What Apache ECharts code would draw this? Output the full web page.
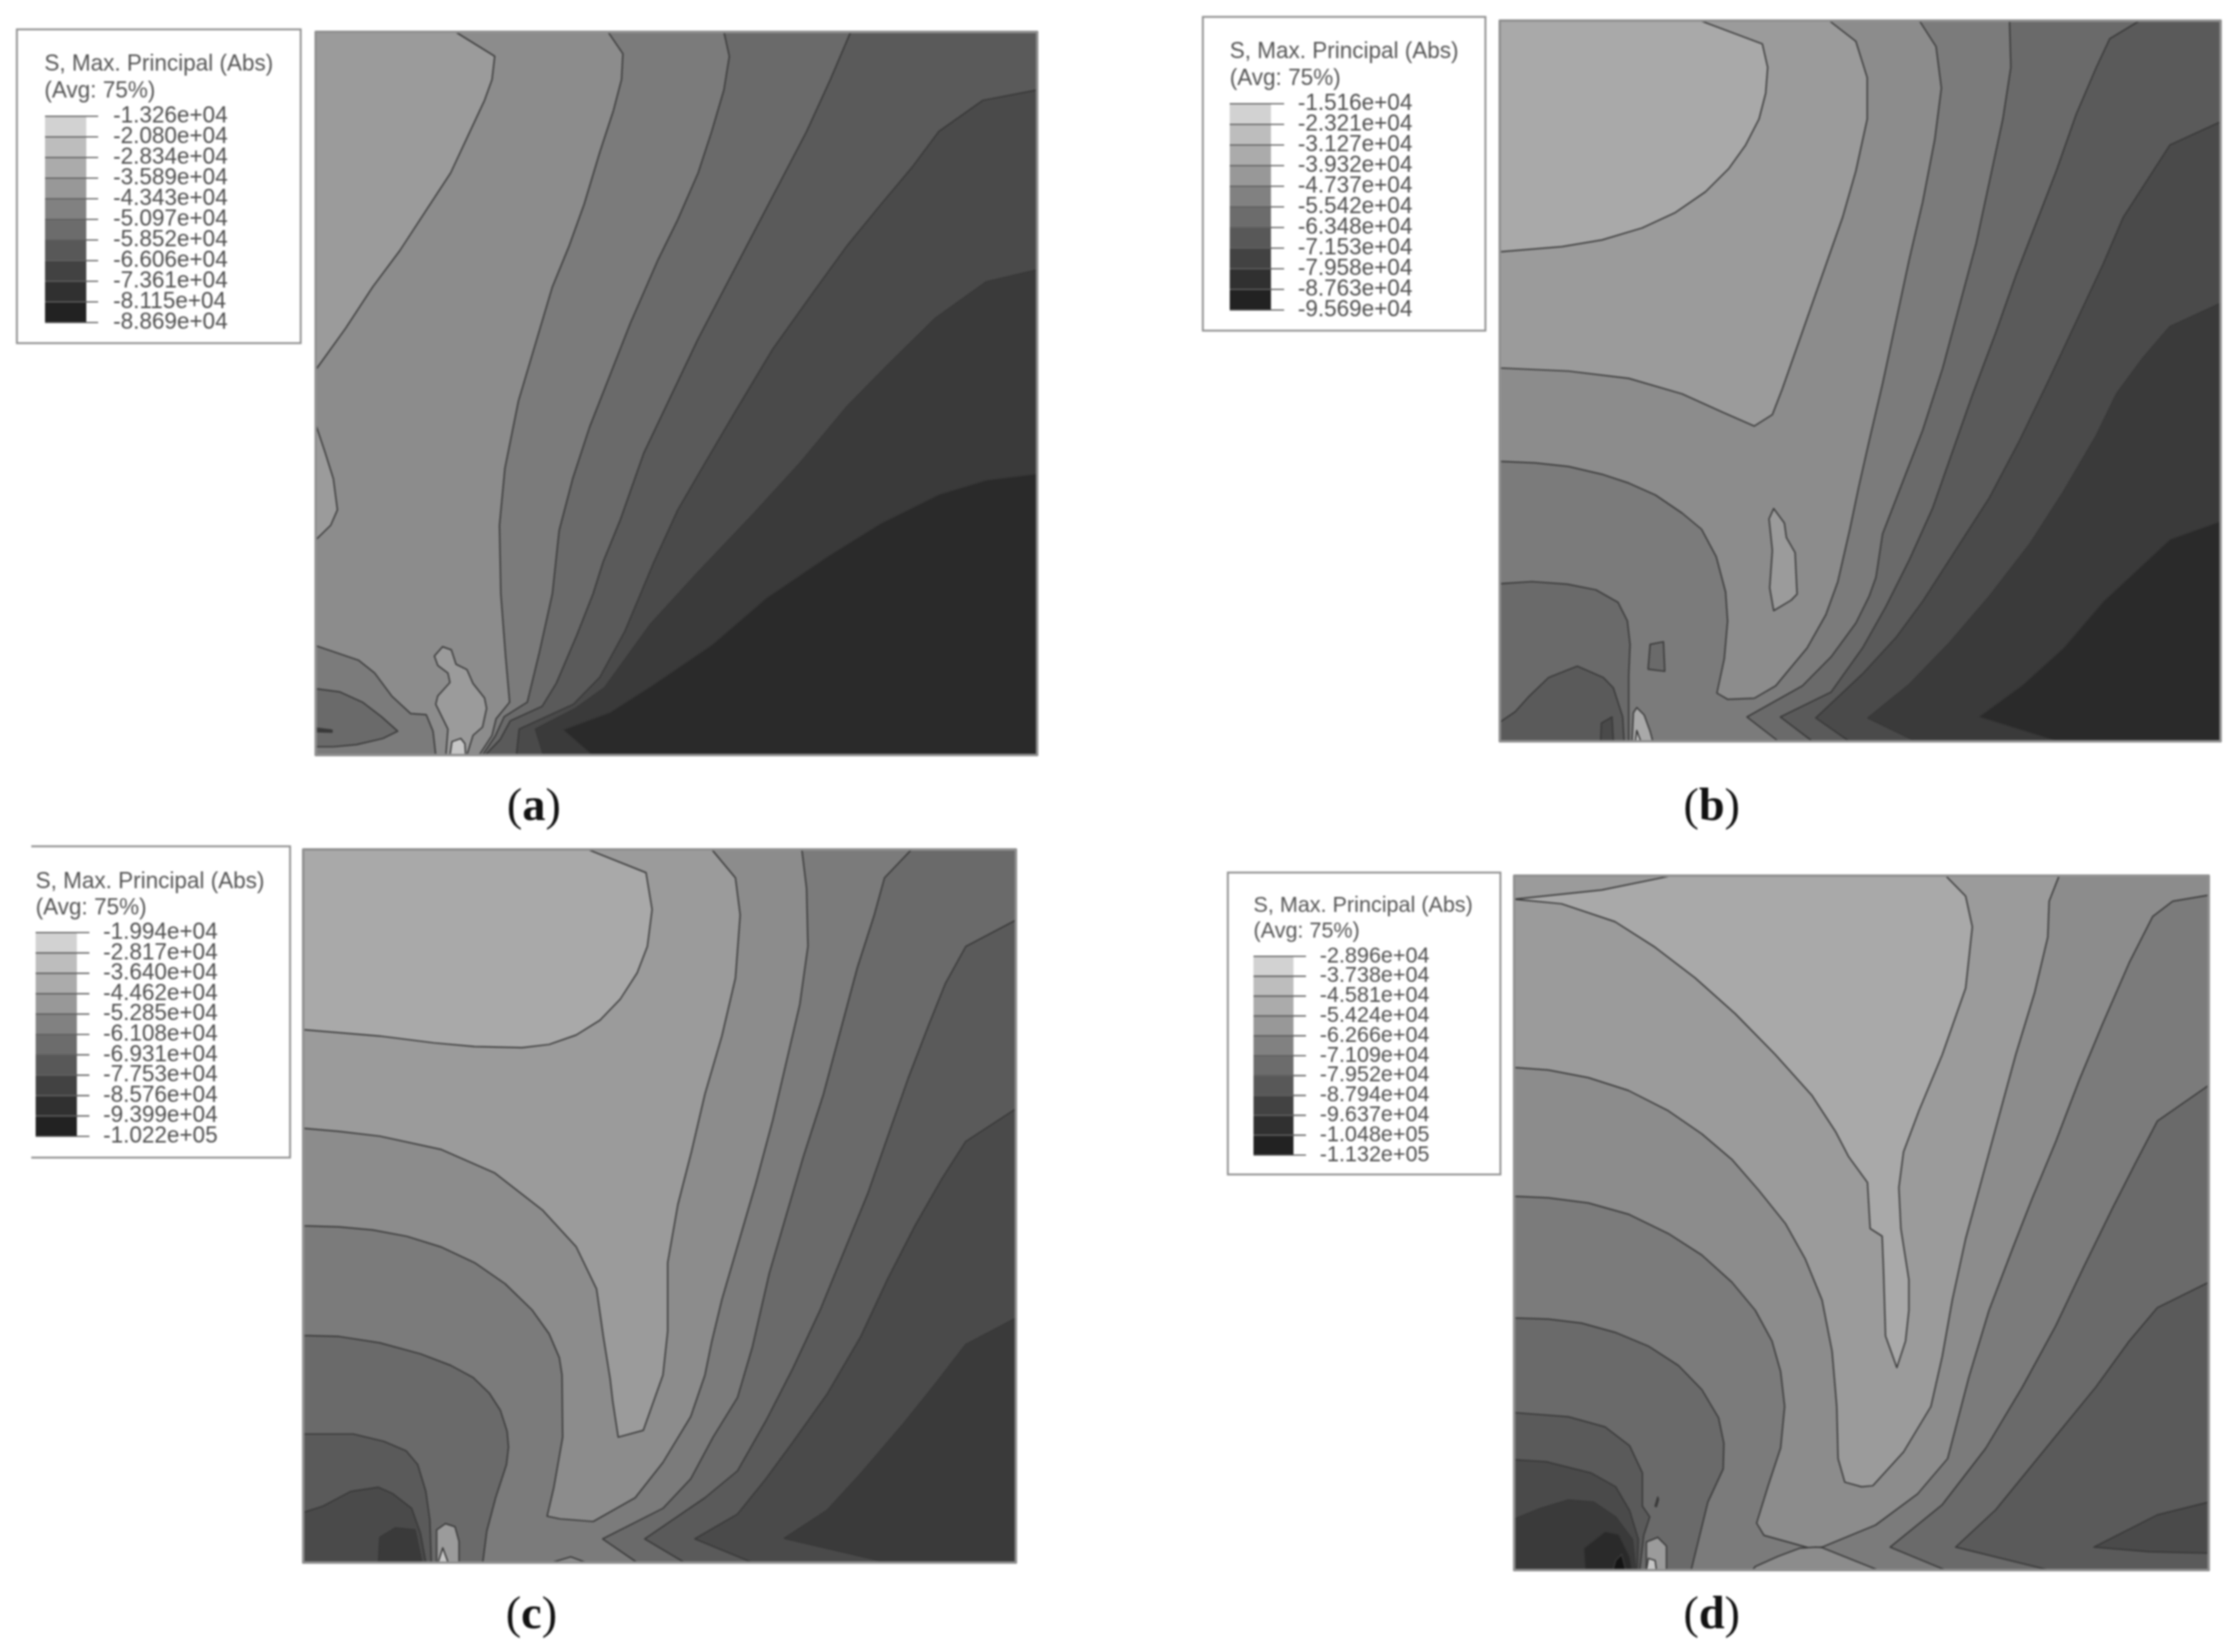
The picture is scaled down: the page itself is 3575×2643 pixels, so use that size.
<!DOCTYPE html>
<html>
<head>
<meta charset="utf-8">
<title>S, Max. Principal (Abs)</title>
<script src="https://cdn.jsdelivr.net/npm/echarts@6/dist/echarts.min.js"></script>
<style>
html, body { margin: 0; padding: 0; background: #fff; }
#main { width: 3575px; height: 2643px; filter: blur(1.5px); }
</style>
</head>
<body>
<div id="main"></div>
<script>
// legend tick labels, one list per panel
const ticksA = ['-1.326e+04','-2.080e+04','-2.834e+04','-3.589e+04','-4.343e+04','-5.097e+04','-5.852e+04','-6.606e+04','-7.361e+04','-8.115e+04','-8.869e+04'];
const ticksB = ['-1.516e+04','-2.321e+04','-3.127e+04','-3.932e+04','-4.737e+04','-5.542e+04','-6.348e+04','-7.153e+04','-7.958e+04','-8.763e+04','-9.569e+04'];
const ticksC = ['-1.994e+04','-2.817e+04','-3.640e+04','-4.462e+04','-5.285e+04','-6.108e+04','-6.931e+04','-7.753e+04','-8.576e+04','-9.399e+04','-1.022e+05'];
const ticksD = ['-2.896e+04','-3.738e+04','-4.581e+04','-5.424e+04','-6.266e+04','-7.109e+04','-7.952e+04','-8.794e+04','-9.637e+04','-1.048e+05','-1.132e+05'];

const legendGrays = ['#d2d2d2','#bdbdbd','#ababab','#989898','#818181','#6c6c6c','#585858','#424242','#303030','#222222'];
const bandGrays = ['#c6c6c6','#a9a9a9','#9b9b9b','#8c8c8c','#7b7b7b','#6a6a6a','#5a5a5a','#4a4a4a','#3a3a3a','#2a2a2a','#141414'];

// contour bands: [band, outline], painted in order, later ones on top
const regionsA = [
  [3, [[466,38],[1530,38],[1530,1433],[466,1433]]],
  [4, [[897,38],[919,80],[917,130],[905,190],[885,270],[862,370],[840,450],[815,530],[790,640],[765,750],[745,880],[737,990],[739,1122],[746,1242],[752,1331],[732,1363],[726,1395],[707,1433],[1530,1433],[1530,38]]],
  [5, [[1068,38],[1076,85],[1068,150],[1050,230],[1030,310],[1000,400],[970,480],[930,600],[900,700],[870,800],[845,900],[825,1000],[815,1122],[796,1234],[778,1331],[744,1359],[731,1396],[712,1433],[1530,1433],[1530,38]]],
  [6, [[1255,38],[1225,130],[1190,230],[1150,330],[1110,430],[1070,530],[1030,630],[990,740],[950,850],[915,980],[890,1060],[875,1122],[851,1202],[821,1294],[800,1339],[753,1367],[738,1403],[716,1433],[1530,1433],[1530,38]]],
  [7, [[1530,150],[1450,170],[1385,230],[1345,300],[1300,370],[1250,450],[1200,540],[1140,650],[1085,770],[1040,870],[1000,960],[965,1060],[922,1194],[885,1283],[846,1335],[766,1383],[762,1433],[1530,1433]]],
  [8, [[1530,497],[1455,520],[1380,590],[1310,680],[1250,760],[1180,870],[1110,970],[1030,1080],[960,1180],[892,1303],[849,1343],[790,1383],[802,1433],[1530,1433]]],
  [9, [[1530,890],[1455,902],[1385,930],[1300,985],[1220,1050],[1130,1130],[1050,1220],[960,1300],[900,1350],[830,1384],[873,1433],[1530,1433]]],
  [2, [[466,38],[672,38],[730,85],[726,130],[715,170],[690,240],[665,310],[630,380],[590,460],[550,530],[510,610],[466,690]]],
  [2, [[466,795],[480,850],[492,900],[498,960],[488,990],[466,1018]]],
  [4, [[466,1222],[529,1250],[553,1275],[578,1319],[606,1353],[629,1355],[639,1387],[643,1433],[466,1433]]],
  [5, [[466,1305],[501,1311],[535,1331],[563,1359],[587,1387],[565,1401],[526,1413],[492,1417],[466,1417]]],
  [8, [[466,1381],[490,1385],[490,1389],[466,1388]]],
  [2, [[653,1224],[666,1230],[673,1258],[689,1268],[698,1295],[715,1323],[718,1343],[712,1379],[698,1395],[689,1433],[658,1433],[661,1383],[643,1335],[646,1319],[664,1293],[661,1275],[646,1260],[641,1242]]],
  [0, [[664,1433],[667,1407],[680,1401],[686,1411],[687,1433]]]
];

const regionsB = [
  [4, [[467,40],[1546,40],[1546,1430],[467,1430]]],
  [5, [[1230,40],[1232,130],[1220,230],[1200,350],[1180,470],[1155,590],[1130,710],[1100,830],[1070,930],[1040,1030],[1030,1114],[1020,1150],[1000,1202],[963,1267],[920,1323],[837,1383],[884,1430],[1546,1430],[1546,40]]],
  [6, [[1425,40],[1380,75],[1360,130],[1330,220],[1300,330],[1270,430],[1240,530],[1210,640],[1175,760],[1145,870],[1115,980],[1080,1080],[1045,1170],[1010,1250],[963,1335],[887,1383],[935,1430],[1546,1430],[1546,40]]],
  [7, [[1546,235],[1470,280],[1440,340],[1400,420],[1370,510],[1330,620],[1290,730],[1245,850],[1200,960],[1150,1060],[1100,1160],[1060,1230],[1010,1300],[940,1385],[990,1430],[1546,1430]]],
  [8, [[1546,585],[1470,630],[1430,690],[1390,760],[1360,840],[1310,950],[1260,1050],[1200,1150],[1140,1240],[1080,1320],[1018,1385],[1090,1430],[1546,1430]]],
  [9, [[1546,1005],[1470,1040],[1420,1100],[1370,1160],[1310,1250],[1250,1320],[1183,1383],[1300,1430],[1546,1430]]],
  [3, [[467,40],[1095,40],[1120,90],[1128,170],[1118,270],[1100,390],[1080,500],[1060,620],[1040,740],[1020,850],[1004,941],[991,1021],[973,1122],[955,1186],[927,1250],[898,1295],[880,1323],[848,1347],[808,1349],[792,1337],[803,1271],[808,1198],[805,1142],[791,1074],[769,1021],[740,990],[700,955],[660,932],[620,915],[570,900],[520,893],[467,890]]],
  [2, [[467,40],[960,40],[1000,80],[1017,150],[1017,230],[1000,330],[980,420],[950,530],[920,640],[890,750],[875,800],[848,822],[800,795],[740,760],[660,730],[570,716],[467,710]]],
  [1, [[467,40],[767,40],[860,85],[868,130],[865,180],[855,230],[835,280],[810,325],[775,370],[730,410],[680,440],[620,463],[560,476],[467,486]]],
  [5, [[467,1126],[515,1122],[568,1127],[611,1138],[644,1162],[658,1198],[662,1243],[660,1303],[660,1430],[467,1430]]],
  [6, [[467,1393],[490,1373],[511,1343],[540,1307],[583,1285],[622,1307],[637,1327],[651,1383],[653,1430],[467,1430]]],
  [7, [[619,1395],[635,1383],[637,1430],[618,1430]]],
  [5, [[692,1243],[712,1238],[714,1295],[689,1291]]],
  [2, [[877,981],[893,1009],[896,1037],[909,1066],[912,1146],[903,1158],[877,1178],[871,1134],[875,1062],[870,1001]]],
  [1, [[665,1430],[667,1375],[672,1365],[683,1379],[692,1411],[696,1430]]],
  [0, [[670,1430],[672,1409],[678,1430]]]
];

const regionsC = [
  [5, [[447,46],[1499,46],[1499,1399],[447,1399]]],
  [4, [[447,46],[1345,46],[1305,100],[1290,170],[1265,270],[1240,390],[1215,510],[1185,630],[1160,740],[1135,850],[1110,990],[1088,1086],[1052,1161],[1019,1240],[978,1296],[889,1354],[940,1399],[712,1399],[718,1339],[731,1276],[747,1213],[750,1180],[748,1150],[738,1110],[722,1078],[698,1048],[665,1025],[620,1003],[560,982],[500,970],[447,968]]],
  [3, [[447,46],[1183,46],[1190,120],[1192,230],[1180,340],[1160,450],[1140,560],[1115,680],[1090,790],[1065,900],[1050,980],[1040,1043],[1019,1122],[978,1209],[937,1276],[875,1321],[826,1316],[807,1311],[817,1256],[830,1161],[829,1043],[825,1010],[810,965],[785,920],[745,870],[700,830],[650,800],[600,780],[550,768],[500,762],[447,760]]],
  [2, [[447,46],[1050,46],[1085,100],[1092,170],[1085,290],[1065,400],[1040,510],[1020,620],[1000,720],[985,830],[985,960],[978,1043],[949,1148],[912,1161],[904,1094],[900,1050],[890,970],[880,880],[850,800],[800,730],[730,660],[650,615],[560,590],[500,581],[447,575]]],
  [1, [[447,46],[867,46],[953,90],[962,160],[955,230],[940,280],[915,330],[885,370],[850,398],[810,416],[770,422],[700,420],[640,413],[560,400],[447,388]]],
  [6, [[1499,180],[1425,230],[1395,300],[1370,380],[1340,480],[1310,590],[1280,700],[1245,810],[1210,920],[1170,1030],[1130,1130],[1088,1225],[1040,1276],[951,1354],[1010,1399],[1499,1399]]],
  [7, [[1499,538],[1425,600],[1390,670],[1350,760],[1310,860],[1270,970],[1220,1080],[1170,1170],[1130,1240],[1088,1307],[1025,1354],[1110,1399],[1499,1399]]],
  [8, [[1499,935],[1425,985],[1380,1060],[1330,1140],[1270,1230],[1220,1300],[1157,1353],[1310,1399],[1499,1399]]],
  [6, [[447,1155],[521,1155],[566,1169],[599,1187],[616,1213],[628,1264],[634,1319],[636,1399],[447,1399]]],
  [7, [[447,1304],[476,1292],[517,1264],[558,1256],[579,1268],[607,1296],[620,1343],[628,1399],[447,1399]]],
  [8, [[560,1351],[583,1333],[612,1337],[622,1399],[558,1399]]],
  [2, [[644,1399],[644,1337],[657,1325],[671,1331],[677,1359],[677,1399]]],
  [0, [[646,1399],[653,1371],[661,1399]]],
  [3, [[813,1399],[842,1388],[865,1399]]]
];

const regionsD = [
  [5, [[489,50],[1529,50],[1529,1408],[489,1408]]],
  [4, [[489,50],[1529,50],[1529,460],[1452,530],[1420,610],[1385,700],[1340,820],[1300,930],[1250,1050],[1195,1170],[1130,1280],[1052,1363],[1135,1408],[754,1408],[779,1275],[802,1210],[803,1160],[795,1110],[770,1055],[735,1008],[690,970],[640,943],[590,925],[540,917],[489,915]]],
  [6, [[1529,845],[1452,895],[1410,960],[1360,1050],[1310,1130],[1260,1210],[1210,1290],[1150,1363],[1290,1408],[1529,1408]]],
  [7, [[1529,1275],[1452,1300],[1357,1363],[1440,1372],[1529,1375]]],
  [3, [[489,50],[1529,50],[1529,88],[1475,100],[1445,130],[1410,220],[1370,340],[1335,450],[1300,570],[1265,680],[1235,780],[1200,900],[1170,1030],[1138,1190],[1093,1259],[1030,1320],[950,1363],[932,1365],[863,1340],[852,1316],[870,1240],[888,1169],[894,1088],[888,1020],[875,960],[850,900],[815,845],[770,792],[720,750],[660,712],[600,690],[540,680],[489,677]]],
  [3, [[846,1408],[850,1401],[884,1381],[917,1365],[941,1363],[950,1364],[1034,1408]]],
  [2, [[489,50],[1305,50],[1290,100],[1288,170],[1268,280],[1240,400],[1215,520],[1190,640],[1165,760],[1145,880],[1130,990],[1113,1088],[1072,1177],[1026,1243],[1009,1245],[984,1236],[974,1190],[972,1088],[965,980],[950,880],[925,800],[895,730],[855,665],[815,605],[770,555],[720,510],[660,470],[600,445],[540,430],[489,425]]],
  [1, [[725,50],[1135,50],[1165,90],[1175,150],[1165,270],[1130,400],[1095,510],[1072,590],[1065,660],[1068,740],[1080,840],[1080,900],[1075,960],[1062,1012],[1045,950],[1042,820],[1040,755],[1022,740],[1018,650],[990,600],[970,550],[935,480],[880,400],[820,320],[760,250],[700,190],[640,140],[560,105],[489,96],[620,78]]],
  [6, [[489,1100],[570,1108],[625,1128],[662,1165],[681,1218],[681,1283],[692,1304],[683,1340],[677,1408],[489,1408]]],
  [7, [[489,1192],[537,1196],[604,1218],[641,1245],[662,1292],[675,1348],[673,1408],[489,1408]]],
  [8, [[489,1308],[529,1287],[570,1271],[608,1275],[641,1304],[666,1348],[671,1408],[489,1408]]],
  [9, [[593,1365],[625,1332],[646,1338],[662,1381],[666,1408],[595,1408]]],
  [10, [[637,1408],[641,1389],[650,1377],[656,1408]]],
  [2, [[687,1408],[687,1353],[704,1344],[717,1361],[717,1408]]],
  [0, [[687,1408],[690,1385],[700,1389],[702,1408]]],
  [6, [[700,1283],[704,1265],[705,1270],[702,1284]]]
];

// layout in screen pixels: panel box, then the read-off extent of its axes
const panels = [
  { regions: regionsA, box: [505, 51, 1154, 1157], xr: [466, 1530], yr: [38, 1433] },
  { regions: regionsB, box: [2399, 33, 1153, 1153], xr: [467, 1546], yr: [40, 1430] },
  { regions: regionsC, box: [485, 1359, 1140, 1141], xr: [447, 1499], yr: [46, 1399] },
  { regions: regionsD, box: [2422, 1401, 1111, 1111], xr: [489, 1529], yr: [50, 1408] }
];

const legends = [
  { ticks: ticksA, swatch: [72, 186, 66, 330], tick: 19, margin: 43, font: 36, titleAt: [71, 82], frame: [27, 47, 454, 502], line: 43 },
  { ticks: ticksB, swatch: [1967, 166, 66, 330], tick: 21, margin: 43, font: 36, titleAt: [1967, 62], frame: [1924, 27, 452, 502], line: 43 },
  { ticks: ticksC, swatch: [57, 1492, 66, 326], tick: 20, margin: 42, font: 36, titleAt: [57, 1390], frame: [50, 1354, 414, 498], line: 42 },
  { ticks: ticksD, swatch: [2005, 1530, 64, 318], tick: 20, margin: 42, font: 34.5, titleAt: [2005, 1429], frame: [1964, 1396, 436, 483], line: 41 }
];

const captions = [['a', 854, 1293], ['b', 2738, 1293], ['c', 850, 2586], ['d', 2738, 2586]];

function regionRenderer(regions) {
  return function (params, api) {
    const r = regions[params.dataIndex];
    const outline = r[0] < 0;
    return {
      type: 'polygon',
      shape: { points: r[1].map(p => api.coord(p)) },
      style: {
        fill: outline ? 'none' : bandGrays[r[0]],
        stroke: outline ? '#909090' : '#383838',
        lineWidth: outline ? 4 : 2.2,
        lineJoin: 'round'
      }
    };
  };
}

// one swatch, the tick line on its top edge and the tick's label
// axis labels drop neighbours here because the rows overlap, so the text is drawn per row
function swatchRenderer(l) {
  const tickEnd = 1 + l.tick / l.swatch[2];
  const labelAt = 1 + l.margin / l.swatch[2];
  return function (params, api) {
    const i = params.dataIndex;
    const children = [];
    if (i < legendGrays.length) {
      const a = api.coord([0, i]);
      const b = api.coord([1, i + 1]);
      children.push({
        type: 'rect',
        shape: { x: a[0], y: a[1], width: b[0] - a[0], height: b[1] - a[1] },
        style: { fill: legendGrays[i] }
      });
    }
    const s = api.coord([0, i]);
    const e = api.coord([tickEnd, i]);
    children.push({
      type: 'line',
      shape: { x1: s[0], y1: s[1], x2: e[0], y2: e[1] },
      style: { stroke: '#5f5f5f', lineWidth: 2.2 }
    });
    const t = api.coord([labelAt, i]);
    children.push({
      type: 'text',
      style: {
        text: l.ticks[i],
        x: t[0],
        y: t[1],
        align: 'left',
        verticalAlign: 'middle',
        fontFamily: 'Liberation Sans',
        fontSize: l.font,
        fill: '#4f4f4f'
      }
    });
    return { type: 'group', children: children };
  };
}

const grid = [], xAxis = [], yAxis = [], series = [], title = [], graphic = [];

panels.forEach((p, n) => {
  grid.push({ left: p.box[0], top: p.box[1], width: p.box[2], height: p.box[3] });
  xAxis.push({ type: 'value', gridIndex: n, min: p.xr[0], max: p.xr[1], show: false });
  yAxis.push({ type: 'value', gridIndex: n, min: p.yr[0], max: p.yr[1], inverse: true, show: false });
  const x = p.xr, y = p.yr;
  const regions = p.regions.concat([[-1, [[x[0], y[0]], [x[1], y[0]], [x[1], y[1]], [x[0], y[1]]]]]);
  series.push({
    type: 'custom',
    xAxisIndex: n,
    yAxisIndex: n,
    clip: false,
    silent: true,
    renderItem: regionRenderer(regions),
    data: regions.map((r, i) => [i, i])
  });
});

legends.forEach((l, k) => {
  const n = k + panels.length;
  grid.push({ left: l.swatch[0], top: l.swatch[1], width: l.swatch[2], height: l.swatch[3] });
  xAxis.push({ type: 'value', gridIndex: n, min: 0, max: 1, show: false });
  yAxis.push({ type: 'value', gridIndex: n, min: 0, max: 10, inverse: true, show: false });
  series.push({
    type: 'custom',
    xAxisIndex: n,
    yAxisIndex: n,
    clip: false,
    silent: true,
    renderItem: swatchRenderer(l),
    data: l.ticks.map((t, i) => [i, i])
  });
  title.push({
    text: 'S, Max. Principal (Abs)\n(Avg: 75%)',
    left: l.titleAt[0],
    top: l.titleAt[1],
    padding: 0,
    textStyle: { fontFamily: 'Liberation Sans', fontSize: l.font, fontWeight: 'normal', color: '#555555', lineHeight: l.line }
  });
  const f = l.frame;
  const frameStyle = { fill: 'none', stroke: '#8f8f8f', lineWidth: 3 };
  if (k === 2) {
    // this legend box is cut off on its left side in the figure
    graphic.push({ type: 'polyline', silent: true, shape: { points: [[f[0], f[1]], [f[0] + f[2], f[1]], [f[0] + f[2], f[1] + f[3]], [f[0], f[1] + f[3]]] }, style: frameStyle });
  } else {
    graphic.push({ type: 'rect', silent: true, shape: { x: f[0], y: f[1], width: f[2], height: f[3] }, style: frameStyle });
  }
});

captions.forEach(c => {
  title.push({
    text: '{p|(}{b|' + c[0] + '}{p|)}',
    left: c[1],
    top: c[2],
    padding: 0,
    textAlign: 'center',
    textVerticalAlign: 'middle',
    textStyle: {
      fontWeight: 'normal',
      rich: {
        p: { fontFamily: 'Liberation Serif', fontSize: 74, fontWeight: 'normal', color: '#111111' },
        b: { fontFamily: 'Liberation Serif', fontSize: 74, fontWeight: 'bold', color: '#111111' }
      }
    }
  });
});

const myChart = echarts.init(document.getElementById('main'), null, { renderer: 'canvas' });
myChart.setOption({
  animation: false,
  backgroundColor: '#ffffff',
  tooltip: { show: false },
  title: title,
  grid: grid,
  xAxis: xAxis,
  yAxis: yAxis,
  series: series,
  graphic: graphic
});
</script>
</body>
</html>
